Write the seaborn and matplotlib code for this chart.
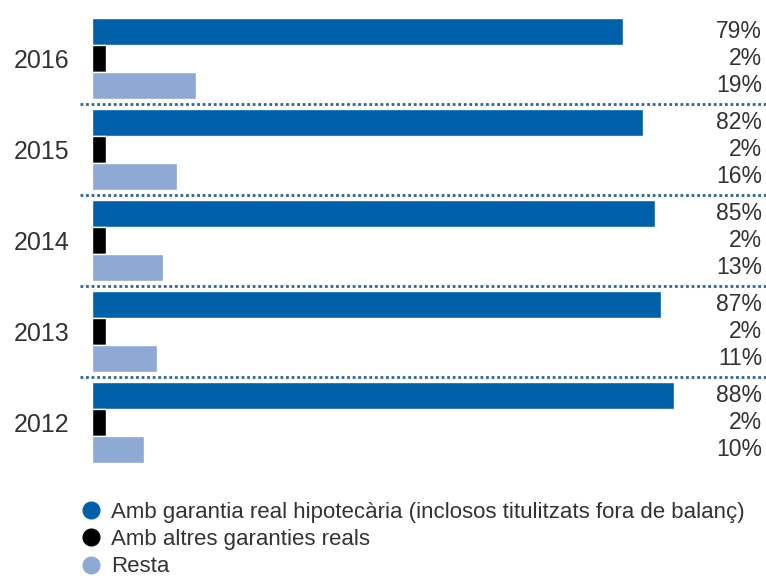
import matplotlib

matplotlib.use("Agg")
import matplotlib.pyplot as plt
from matplotlib.lines import Line2D
import pandas as pd
import seaborn as sns

# Data (top group first)
years = ["2016", "2015", "2014", "2013", "2012"]
series = [
    "Amb garantia real hipotecària (inclosos titulitzats fora de balanç)",
    "Amb altres garanties reals",
    "Resta",
]
# bar lengths as drawn (in % units)
mortgage = [80.3, 83.3, 85.1, 86.1, 88.1]
other_guar = [2.06, 2.06, 2.06, 2.06, 2.06]
rest = [15.8, 12.9, 10.8, 9.9, 7.9]
# printed labels
mortgage_lbl = ["79%", "82%", "85%", "87%", "88%"]
other_lbl = ["2%", "2%", "2%", "2%", "2%"]
rest_lbl = ["19%", "16%", "13%", "11%", "10%"]

colors = ["#0060AA", "#000000", "#8FA9D5"]
text_col = "#333333"

df = pd.DataFrame({
    "year": years * 3,
    "series": [series[0]] * 5 + [series[1]] * 5 + [series[2]] * 5,
    "value": mortgage + other_guar + rest,
})

sns.set_style("white")
plt.rcParams["font.family"] = ["Liberation Sans Narrow", "Liberation Sans", "DejaVu Sans"]

fig = plt.figure(figsize=(7.66, 5.79), dpi=100)
fig.patch.set_facecolor("white")

# axes: x=0 at 92px, 6.61 px per unit; y rows 91 px apart
ax = fig.add_axes([92 / 766, 111 / 579, 674 / 766, 455 / 579])

sns.barplot(
    data=df,
    y="year",
    x="value",
    hue="series",
    order=years,
    hue_order=series,
    palette=colors,
    saturation=1,
    orient="h",
    width=0.9,
    edgecolor="white",
    linewidth=1,
    ax=ax,
    legend=False,
)

ax.set_xlim(0, 674 / 6.61)
ax.set_ylim(4.5, -0.5)
sns.despine(ax=ax, left=True, bottom=True, top=True, right=True)
ax.set_xticks([])
ax.set_xlabel("")
ax.set_ylabel("")
ax.tick_params(axis="y", length=0, pad=16, labelsize=18, labelcolor=text_col)
for lbl in ax.get_yticklabels():
    lbl.set_fontfamily("Liberation Sans")

# dotted separators between groups
for y in [0.5, 1.5, 2.5, 3.5]:
    ax.plot([-1.8, 102], [y, y], color="#2A64A8", linestyle=(0, (1, 1)),
            linewidth=2, clip_on=False)

# percentage labels, right-aligned at the right edge
x_lbl = (762 - 92) / 6.61
for i in range(len(years)):
    for j, lbls in enumerate([mortgage_lbl, other_lbl, rest_lbl]):
        ax.text(x_lbl, i + (j - 1) * 0.3, lbls[i], ha="right", va="center",
                fontsize=16.5, color=text_col, family="Liberation Sans")

handles = [
    Line2D([], [], linestyle="none", marker="o", markersize=12,
           markerfacecolor=c, markeredgecolor=c)
    for c in colors
]
fig.legend(
    handles, series,
    loc="upper left",
    bbox_to_anchor=(80 / 766, 1 - 502 / 579),
    frameon=False,
    fontsize=16,
    handlelength=1.0,
    handletextpad=0.4,
    labelspacing=0.28,
    borderpad=0,
    borderaxespad=0,
    labelcolor=text_col,
)

plt.savefig("out.png", dpi=100, facecolor="white")
